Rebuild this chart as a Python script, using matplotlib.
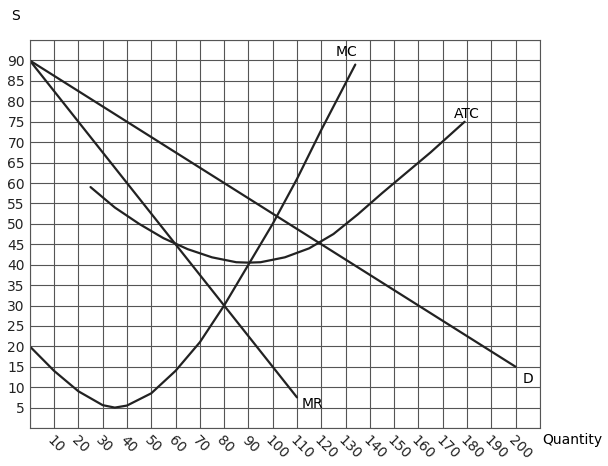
import matplotlib.pyplot as plt

# demand and marginal revenue (straight lines)
d_q = [0, 200]
d_p = [90, 15]
mr_q = [0, 110]
mr_p = [90, 7.5]

# marginal cost
mc_q = [0, 10, 20, 30, 35, 40, 50, 60, 70, 80, 90, 100, 110, 120, 134]
mc_p = [20, 14, 9, 5.6, 5, 5.5, 8.5, 14, 21, 30, 40, 50, 61, 73, 89]

# average total cost
atc_q = [25, 35, 45, 55, 65, 75, 85, 90, 95, 105, 115, 125, 135, 145, 155, 165, 179]
atc_p = [59, 54, 50, 46.5, 43.8, 41.8, 40.6, 40.5, 40.6, 41.8, 44, 47.5, 52.3, 57.5, 62.5, 67.5, 75]

x_ticks = list(range(10, 201, 10))
y_ticks = list(range(5, 91, 5))

fig = plt.figure(figsize=(6.08, 4.66), dpi=100)
ax = fig.add_axes([0.049, 0.0815, 0.839, 0.8325])

kw = dict(color="#222222", lw=1.6, solid_capstyle="round")
ax.plot(d_q, d_p, **kw)
ax.plot(mr_q, mr_p, **kw)
ax.plot(mc_q, mc_p, **kw)
ax.plot(atc_q, atc_p, **kw)

ax.set_xlim(0, 210)
ax.set_ylim(0, 95)
ax.set_xticks(range(0, 211, 10))
ax.set_yticks(range(0, 96, 5))
ax.grid(True, color="#555555", lw=0.8)
ax.set_axisbelow(True)
for s in ax.spines.values():
    s.set_color("#555555")
    s.set_linewidth(0.8)
ax.tick_params(length=0, labelsize=10, colors="#222222")
ax.set_xticklabels([""] + [str(t) for t in x_ticks] + [""], rotation=-45,
                   ha="left", va="top", rotation_mode="anchor")
ax.set_yticklabels([""] + [str(t) for t in y_ticks] + [""])

ax.text(135, 91, "MC", fontsize=10, ha="right")
ax.text(180, 76, "ATC", fontsize=10, ha="center")
ax.text(112, 6, "MR", fontsize=10, va="center")
ax.text(203, 12, "D", fontsize=10, va="center")
ax.text(-6, 100, "S", fontsize=10, ha="center", clip_on=False)
ax.text(211, -3, "Quantity", fontsize=10, ha="left", va="center", clip_on=False)

fig.savefig("out.png", dpi=100)
